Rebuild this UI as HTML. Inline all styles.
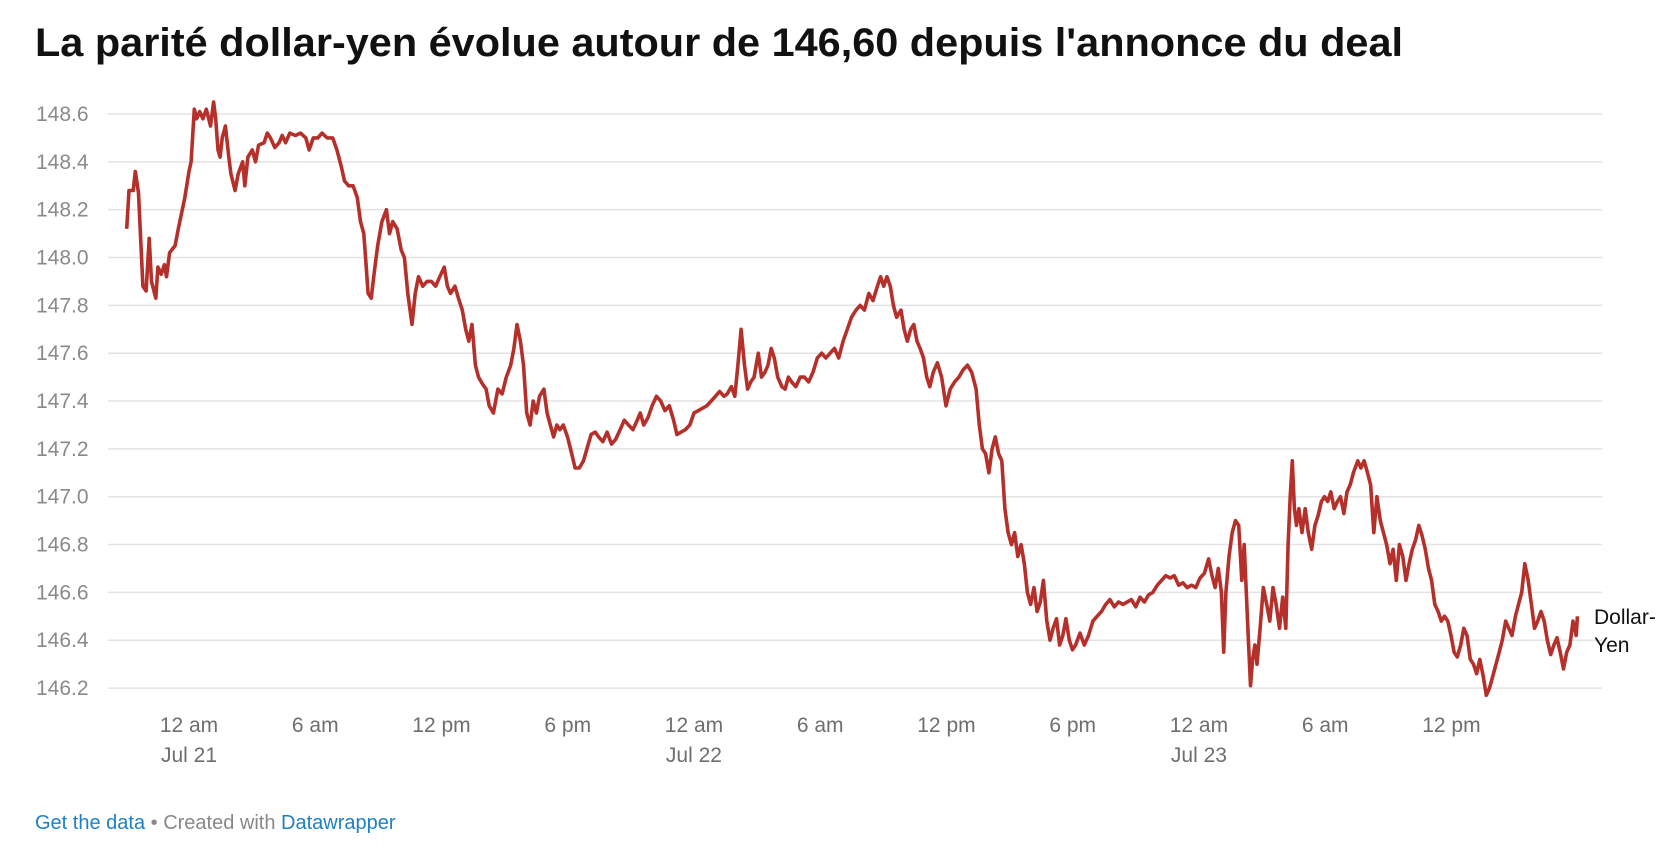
<!DOCTYPE html>
<html><head><meta charset="utf-8">
<style>
body{margin:0;background:#fff;width:1678px;height:860px;overflow:hidden;font-family:"Liberation Sans",Arial,sans-serif;}
svg{position:absolute;left:0;top:0}
</style></head>
<body>
<svg id="chart" width="1678" height="860">
<text x="35" y="56" font-size="40" font-weight="bold" fill="#111" textLength="1368" lengthAdjust="spacingAndGlyphs">La parité dollar-yen évolue autour de 146,60 depuis l'annonce du deal</text>
<g id="grid"></g>
<g id="yticks"></g>
<g id="xticks"></g>
<path id="line" fill="none" stroke="#b5302a" stroke-width="3.6" stroke-linejoin="round"/>
<text x="1594" y="624" font-size="21" fill="#111">Dollar-</text>
<text x="1594" y="652" font-size="21" fill="#111">Yen</text>
<text x="35" y="829" font-size="20"><tspan fill="#1d81c4">Get the data</tspan><tspan fill="#888"> • Created with </tspan><tspan fill="#1d81c4">Datawrapper</tspan></text>
</svg>
<script>
const yTicks=[148.6,148.4,148.2,148.0,147.8,147.6,147.4,147.2,147.0,146.8,146.6,146.4,146.2];
const xTickHours=[0,6,12,18,24,30,36,42,48,54,60];
const xTickLabels=["12 am","6 am","12 pm","6 pm","12 am","6 am","12 pm","6 pm","12 am","6 am","12 pm"];
const xTickDates=["Jul 21","","","","Jul 22","","","","Jul 23","",""];
const times=[-2.96,-2.85,-2.65,-2.55,-2.40,-2.19,-2.04,-1.89,-1.78,-1.58,-1.48,-1.32,-1.17,-1.07,-0.92,-0.66,-0.51,-0.20,0,0.10,0.25,0.36,0.51,0.66,0.82,1.02,1.17,1.27,1.38,1.48,1.58,1.73,1.89,1.99,2.19,2.34,2.55,2.65,2.80,3.01,3.16,3.31,3.57,3.72,3.87,4.08,4.28,4.43,4.59,4.79,5.05,5.30,5.55,5.71,5.91,6.12,6.32,6.57,6.83,7.03,7.24,7.39,7.59,7.80,8.00,8.15,8.31,8.41,8.51,8.66,8.82,8.97,9.17,9.38,9.53,9.68,9.89,10.09,10.24,10.40,10.60,10.75,10.91,11.11,11.31,11.52,11.72,11.92,12.13,12.28,12.43,12.64,12.84,12.99,13.15,13.30,13.45,13.61,13.76,13.96,14.12,14.27,14.47,14.68,14.88,15.08,15.29,15.44,15.59,15.75,15.90,16.05,16.21,16.36,16.51,16.66,16.87,17.02,17.17,17.33,17.48,17.63,17.79,17.99,18.19,18.35,18.55,18.75,18.91,19.11,19.31,19.47,19.67,19.87,20.08,20.28,20.49,20.69,20.89,21.10,21.30,21.45,21.61,21.81,22.01,22.22,22.42,22.62,22.83,23.03,23.19,23.39,23.59,23.80,24.00,24.21,24.41,24.61,24.82,25.02,25.22,25.43,25.58,25.78,25.94,26.09,26.24,26.40,26.55,26.70,26.86,27.06,27.21,27.37,27.52,27.67,27.82,27.98,28.18,28.33,28.49,28.64,28.84,29.05,29.25,29.45,29.66,29.86,30.07,30.27,30.47,30.68,30.88,31.09,31.29,31.49,31.70,31.90,32.10,32.31,32.51,32.72,32.87,33.02,33.17,33.33,33.48,33.63,33.84,33.99,34.14,34.30,34.45,34.60,34.75,34.91,35.06,35.21,35.37,35.57,35.77,35.98,36.18,36.39,36.59,36.79,37.00,37.20,37.41,37.56,37.71,37.86,38.02,38.17,38.32,38.48,38.63,38.78,38.93,39.09,39.24,39.39,39.55,39.70,39.85,40.00,40.16,40.31,40.46,40.61,40.77,40.92,41.07,41.23,41.38,41.53,41.68,41.84,41.99,42.14,42.35,42.55,42.75,42.96,43.16,43.37,43.57,43.77,43.98,44.18,44.39,44.59,44.79,45.00,45.20,45.41,45.61,45.81,46.02,46.22,46.42,46.63,46.83,47.04,47.24,47.44,47.65,47.85,48.05,48.26,48.46,48.62,48.77,48.92,49.07,49.18,49.28,49.43,49.58,49.74,49.89,50.04,50.15,50.25,50.35,50.45,50.55,50.66,50.76,50.91,51.06,51.22,51.37,51.52,51.67,51.83,51.98,52.13,52.24,52.34,52.44,52.54,52.64,52.75,52.90,53.05,53.20,53.36,53.51,53.66,53.82,53.97,54.12,54.27,54.43,54.58,54.73,54.89,55.04,55.19,55.34,55.55,55.70,55.85,56.01,56.16,56.31,56.46,56.62,56.77,56.92,57.08,57.23,57.38,57.53,57.69,57.84,57.99,58.14,58.30,58.45,58.60,58.76,58.91,59.06,59.21,59.37,59.52,59.67,59.83,59.98,60.13,60.28,60.44,60.59,60.74,60.90,61.05,61.20,61.35,61.51,61.66,61.81,61.97,62.12,62.27,62.42,62.58,62.73,62.88,63.04,63.19,63.34,63.49,63.65,63.80,63.95,64.10,64.26,64.41,64.56,64.72,64.87,65.02,65.17,65.33,65.48,65.63,65.78,65.93,65.99];
const values=[148.12,148.28,148.28,148.36,148.27,147.88,147.86,148.08,147.90,147.83,147.96,147.93,147.97,147.92,148.02,148.05,148.12,148.25,148.36,148.40,148.62,148.58,148.61,148.58,148.62,148.55,148.65,148.58,148.45,148.42,148.50,148.55,148.42,148.35,148.28,148.35,148.40,148.30,148.42,148.45,148.40,148.47,148.48,148.52,148.50,148.46,148.48,148.51,148.48,148.52,148.51,148.52,148.50,148.45,148.50,148.50,148.52,148.50,148.50,148.45,148.38,148.32,148.30,148.30,148.25,148.15,148.10,147.98,147.85,147.83,147.95,148.05,148.15,148.20,148.10,148.15,148.12,148.03,148.00,147.85,147.72,147.85,147.92,147.88,147.90,147.90,147.88,147.92,147.96,147.88,147.85,147.88,147.82,147.78,147.70,147.65,147.72,147.55,147.50,147.47,147.45,147.38,147.35,147.45,147.43,147.50,147.55,147.62,147.72,147.65,147.55,147.35,147.30,147.40,147.35,147.42,147.45,147.35,147.30,147.25,147.30,147.28,147.30,147.25,147.18,147.12,147.12,147.15,147.20,147.26,147.27,147.25,147.23,147.27,147.22,147.24,147.28,147.32,147.30,147.28,147.32,147.35,147.30,147.33,147.38,147.42,147.40,147.36,147.38,147.32,147.26,147.27,147.28,147.30,147.35,147.36,147.37,147.38,147.40,147.42,147.44,147.42,147.43,147.46,147.42,147.55,147.70,147.55,147.45,147.48,147.50,147.60,147.50,147.52,147.55,147.62,147.58,147.50,147.46,147.45,147.50,147.48,147.46,147.50,147.50,147.48,147.52,147.58,147.60,147.58,147.60,147.62,147.58,147.65,147.70,147.75,147.78,147.80,147.78,147.85,147.82,147.88,147.92,147.88,147.92,147.88,147.80,147.75,147.78,147.70,147.65,147.70,147.72,147.65,147.62,147.58,147.50,147.46,147.52,147.56,147.50,147.38,147.45,147.48,147.50,147.53,147.55,147.52,147.45,147.30,147.20,147.18,147.10,147.20,147.25,147.18,147.15,146.95,146.85,146.80,146.85,146.75,146.80,146.72,146.60,146.55,146.62,146.52,146.56,146.65,146.48,146.40,146.45,146.49,146.38,146.42,146.49,146.40,146.36,146.38,146.43,146.38,146.42,146.48,146.50,146.52,146.55,146.57,146.54,146.56,146.55,146.56,146.57,146.54,146.58,146.56,146.59,146.60,146.63,146.65,146.67,146.66,146.67,146.63,146.64,146.62,146.63,146.62,146.66,146.68,146.74,146.67,146.62,146.70,146.60,146.35,146.60,146.75,146.85,146.90,146.88,146.65,146.80,146.60,146.40,146.21,146.32,146.38,146.30,146.45,146.62,146.55,146.48,146.62,146.55,146.45,146.58,146.45,146.80,147.00,147.15,146.95,146.88,146.95,146.85,146.95,146.85,146.78,146.88,146.92,146.98,147.00,146.98,147.02,146.95,146.98,147.00,146.93,147.02,147.05,147.10,147.15,147.12,147.15,147.10,147.05,146.85,147.00,146.90,146.85,146.80,146.72,146.78,146.65,146.80,146.75,146.65,146.72,146.78,146.82,146.88,146.84,146.78,146.70,146.65,146.55,146.52,146.48,146.50,146.48,146.42,146.35,146.33,146.38,146.45,146.42,146.32,146.30,146.26,146.32,146.25,146.17,146.20,146.25,146.30,146.35,146.40,146.48,146.45,146.42,146.50,146.55,146.60,146.72,146.65,146.55,146.45,146.48,146.52,146.48,146.40,146.34,146.38,146.41,146.35,146.28,146.35,146.38,146.48,146.42,146.50];

const NS="http://www.w3.org/2000/svg";
const plotLeft=108, plotRight=1602;
function xScale(h){return 189 + h*21.04;}
function yScale(v){return 114 + (148.6 - v)*239.2;}
const grid=document.getElementById('grid'), yt=document.getElementById('yticks'), xt=document.getElementById('xticks');
yTicks.forEach(v=>{
  const l=document.createElementNS(NS,'line');
  
  
  l.setAttribute('x1',plotLeft);l.setAttribute('x2',plotRight);
  l.setAttribute('y1',yScale(v));l.setAttribute('y2',yScale(v));
  l.setAttribute('stroke','#e3e3e3');l.setAttribute('stroke-width','1.5');
  grid.appendChild(l);
  const t=document.createElementNS(NS,'text');
  
  
  t.setAttribute('x',36);t.setAttribute('y',yScale(v)+7);
  t.setAttribute('font-size','21');t.setAttribute('fill','#8a8a8a');
  t.textContent=v.toFixed(1);
  yt.appendChild(t);
});
xTickHours.forEach((h,i)=>{
  const t=document.createElementNS(NS,'text');
  
  
  t.setAttribute('x',xScale(h));t.setAttribute('y',732);
  t.setAttribute('font-size','21');t.setAttribute('fill','#6e6e6e');t.setAttribute('text-anchor','middle');
  t.textContent=xTickLabels[i];
  xt.appendChild(t);
  if(xTickDates[i]){
    const d=document.createElementNS(NS,'text');
    
    
    d.setAttribute('x',xScale(h));d.setAttribute('y',762);
    d.setAttribute('font-size','21');d.setAttribute('fill','#6e6e6e');d.setAttribute('text-anchor','middle');
    d.textContent=xTickDates[i];
    xt.appendChild(d);
  }
});
let dstr='';
values.forEach((v,i)=>{dstr+=(i?'L':'M')+xScale(times[i]).toFixed(1)+','+yScale(v).toFixed(1);});
document.getElementById('line').setAttribute('d',dstr);
</script>
</body></html>
